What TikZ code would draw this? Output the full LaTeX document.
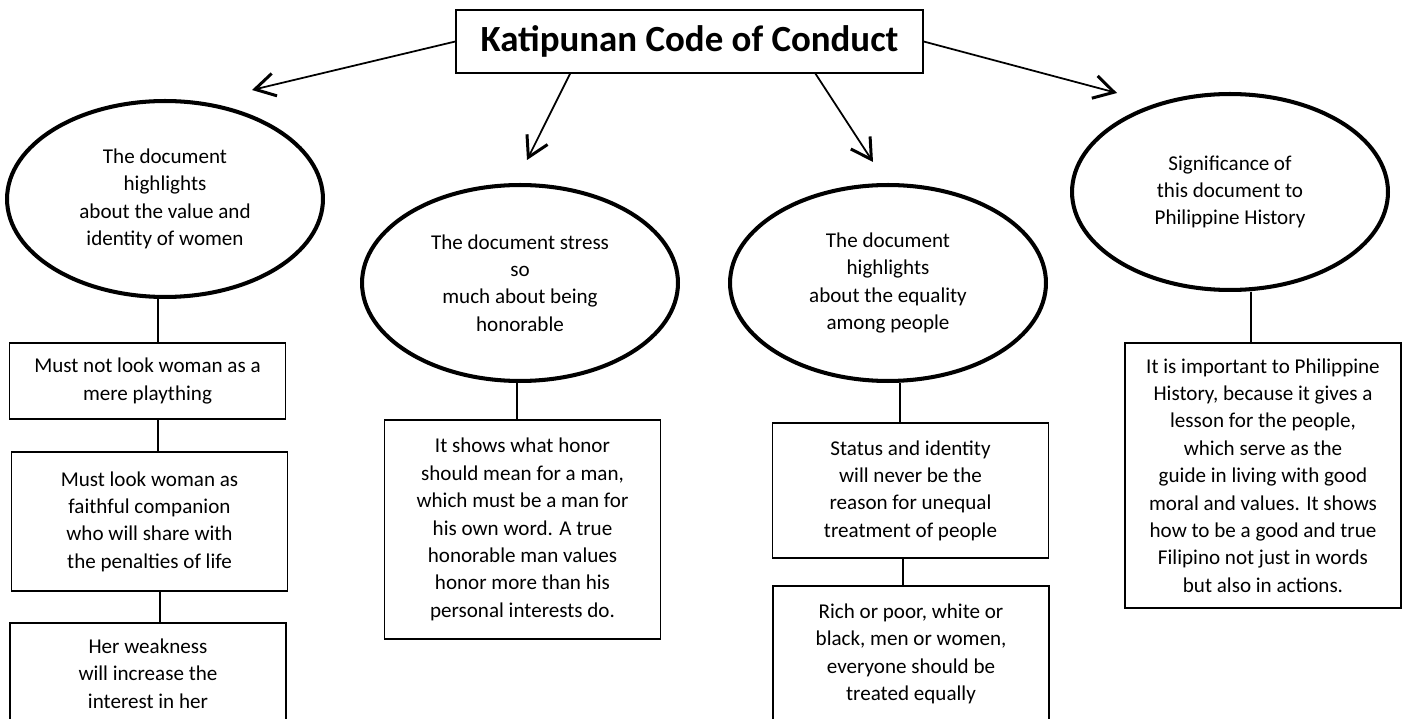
\documentclass[tikz,border=0pt]{standalone}
\usepackage{fontspec}
\setmainfont{Carlito}
\usepackage{tikz}
\usetikzlibrary{positioning,arrows.meta,calc,shapes.geometric}

\begin{document}
\begin{tikzpicture}[x=0.02cm, y=-0.02cm,
    topic/.style={draw, ellipse, line width=2.3pt, minimum width=63.2mm, minimum height=39.2mm,
        inner sep=0pt, align=center, font=\fontsize{12}{15.6}\selectfont},
    detail/.style={draw, rectangle, line width=0.7pt, minimum width=55.2mm, inner sep=0pt,
        align=center, font=\fontsize{12}{15.6}\selectfont},
    link/.style={line width=0.9pt},
    pointer/.style={line width=1pt, -{Straight Barb[length=4mm, width=4.6mm, line width'=1.7pt]}}]

% Page frame
\useasboundingbox (0,0) rectangle (1406,719);
\clip (0,0) rectangle (1406,719);

% Title
\node[draw, line width=0.8pt, minimum width=93.4mm, minimum height=12.6mm,
    font=\bfseries\fontsize{21}{24}\selectfont] (title) at (689.5,41.5) {Katipunan Code of Conduct};

% Main topics
\node[topic] (e1) at (165,199) {The document\\highlights\\about the value and\\identity of women};
\node[topic] (e2) at (520,283) {The document stress\\so\\much about being\\honorable};
\node[topic] (e3) at (888,283) {The document\\highlights\\about the equality\\among people};
\node[topic] (e4) at (1230,192) {Significance of\\this document to\\Philippine History};

% Arrows from the title
\coordinate (t1) at (252,90);
\coordinate (t2) at (527,160);
\coordinate (t3) at (873,162);
\coordinate (t4) at (1117,93);
\draw[pointer] (title.west) -- (t1);
\draw[pointer] ($(title.south west)!0.245!(title.south east)$) -- (t2);
\draw[pointer] ($(title.south west)!0.769!(title.south east)$) -- (t3);
\draw[pointer] (title.east) -- (t4);

% Women
\node[detail, minimum height=15.2mm] (b1a) at (147.5,381) {Must not look woman as a\\mere plaything};
\node[detail, minimum height=27.8mm] (b1b) at (149.5,521.5) {Must look woman as\\faithful companion\\who will share with\\the penalties of life};
\node[detail, minimum height=20.2mm] (b1c) at (148,673.5) {Her weakness\\will increase the\\interest in her};
\draw[link] ([xshift=-0.14cm]e1.south) -- ([xshift=0.21cm]b1a.north);
\draw[link] ([xshift=0.21cm]b1a.south) -- ([xshift=0.17cm]b1b.north);
\draw[link] ([xshift=0.21cm]b1b.south) -- ([xshift=0.24cm]b1c.north);

% Honor
\node[detail, minimum height=43.8mm] (b2) at (522.5,529.5) {It shows what honor\\should mean for a man,\\which must be a man for\\his own word. A true\\honorable man values\\honor more than his\\personal interests do.};
\draw[link] ([xshift=-0.06cm]e2.south) -- ([xshift=-0.11cm]b2.north);

% Equality
\node[detail, minimum height=27mm] (b3a) at (910.5,490.5) {Status and identity\\will never be the\\reason for unequal\\treatment of people};
\node[detail, minimum height=27.2mm] (b3b) at (911,654) {Rich or poor, white or\\black, men or women,\\everyone should be\\treated equally};
\draw[link] ([xshift=0.24cm]e3.south) -- ([xshift=-0.21cm]b3a.north);
\draw[link] ([xshift=-0.15cm]b3a.south) -- ([xshift=-0.16cm]b3b.north);

% Significance
\node[detail, minimum height=53mm] (b4) at (1263,475.5) {It is important to Philippine\\History, because it gives a\\lesson for the people,\\which serve as the\\guide in living with good\\moral and values. It shows\\how to be a good and true\\Filipino not just in words\\but also in actions.};
\draw[link] ([xshift=0.42cm]e4.south) -- ([xshift=-0.24cm]b4.north);
\end{tikzpicture}
\end{document}
